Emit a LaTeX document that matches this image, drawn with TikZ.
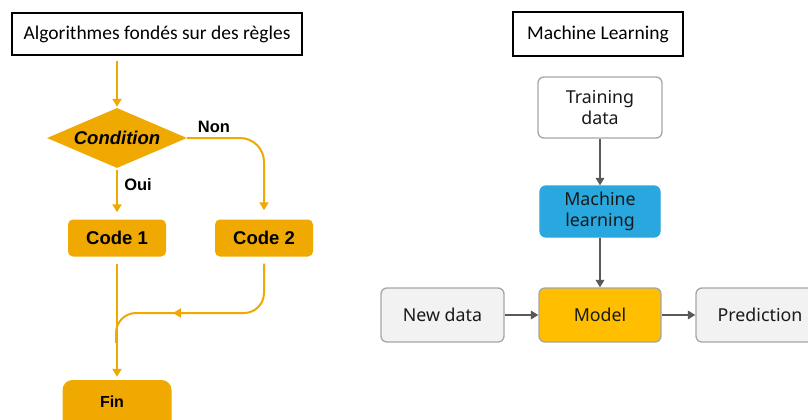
\documentclass[tikz,border=0pt]{standalone}
\usepackage{fontspec}
\usetikzlibrary{arrows.meta,shapes.geometric}
\newfontfamily\titlefont{Carlito}
\newfontfamily\flowfont{Liberation Sans}
\newfontfamily\mlfont{Noto Sans}
\definecolor{flowor}{HTML}{F0A900}
\definecolor{modelor}{HTML}{FFBF00}
\definecolor{mlblue}{HTML}{29A8E0}
\definecolor{boxgray}{HTML}{F2F2F2}
\definecolor{edgegray}{HTML}{A6A6A6}
\definecolor{arrgray}{HTML}{595959}
\tikzset{
  titlebox/.style={draw=black, line width=2.6pt, fill=white, inner sep=0pt,
    font=\titlefont\fontsize{19.5}{22}\selectfont},
  flowbox/.style={fill=flowor, rounded corners=5pt, inner sep=0pt,
    font=\flowfont\bfseries\fontsize{18.5}{21}\selectfont},
  flowlbl/.style={font=\flowfont\bfseries\fontsize{16.5}{19}\selectfont, inner sep=0pt},
  oline/.style={draw=flowor, line width=2pt},
  oarrow/.style={oline, -{Triangle[length=8pt,width=9pt]}},
  mlbox/.style={draw=edgegray, line width=1.3pt, rounded corners=6pt, inner sep=0pt,
    align=center, font=\mlfont\fontsize{17.8}{21}\selectfont, text=black!90},
  garrow/.style={draw=arrgray, line width=2.4pt, -{Triangle[length=7.5pt,width=8.5pt]}}
}
\begin{document}
\begin{tikzpicture}[x=1pt,y=-1pt]
\useasboundingbox (0,0) rectangle (808,420);
\fill[white] (0,0) rectangle (808,420);

% ---- rule-based flowchart ----
\node[titlebox, minimum width=290pt, minimum height=42pt] (rtitle) at (157,34) {Algorithmes fondés sur des règles};
\node[flowbox, shape=diamond, aspect=2.33, rounded corners=0pt, minimum width=140pt, minimum height=60pt,
      font=\flowfont\bfseries\itshape\fontsize{18.5}{21}\selectfont] (cond) at (117,138) {Condition};
\node[flowbox, minimum width=98pt, minimum height=37pt] (c1) at (117,238) {Code 1};
\node[flowbox, minimum width=98pt, minimum height=37pt] (c2) at (264,238) {Code 2};
\node[flowbox, rounded corners=10pt, minimum width=109pt, minimum height=50pt] (fin) at (117,405) {};
\node[flowlbl, font=\flowfont\bfseries\fontsize{16}{19}\selectfont] (fintxt) at (112,402) {Fin};
\node[flowlbl] (non) at (214,127) {Non};
\node[flowlbl] (oui) at (138,185) {Oui};

\coordinate (join) at (116,313);
\coordinate (mid) at (173,313);

% connectors (canvas y points up: positive yshift lifts a point)
\draw[oarrow] ([yshift=-5pt]rtitle.south -| cond.north) -- ([yshift=1pt]cond.north);
\draw[oarrow] ([yshift=-2pt]cond.south) -- ([yshift=7pt]c1.north);
\draw[oarrow, rounded corners=24pt] (cond.east) -- (cond.east -| c2.north) -- ([yshift=9pt]c2.north);
\draw[oline, rounded corners=20pt] ([yshift=-7pt]c2.south) |- (join) -- ([yshift=-30pt]join);
\draw[oarrow] ([yshift=-7pt]c1.south) -- ([yshift=3pt]fin.north);
\draw[oarrow] ([xshift=6pt]mid) -- (mid);

% ---- machine learning pipeline ----
\node[titlebox, minimum width=170pt, minimum height=44pt] (mtitle) at (598,34) {Machine Learning};
\node[mlbox, fill=white, minimum width=124pt, minimum height=61pt] (train) at (600,107.5) {Training\\data};
\node[mlbox, fill=mlblue, draw=mlblue, minimum width=120pt, minimum height=51pt] (mlearn) at (600,211.5) {Machine\\learning};
\node[mlbox, fill=modelor, minimum width=122pt, minimum height=54pt] (model) at (600,315) {Model};
\node[mlbox, fill=boxgray, minimum width=123pt, minimum height=54pt] (newd) at (442.5,315) {New data};
\node[mlbox, fill=boxgray, minimum width=128pt, minimum height=54pt] (pred) at (760,315) {Prediction};

\draw[garrow] (train) -- (mlearn);
\draw[garrow] (mlearn) -- (model);
\draw[garrow] (newd) -- (model);
\draw[garrow] (model) -- (pred);
\end{tikzpicture}
\end{document}
